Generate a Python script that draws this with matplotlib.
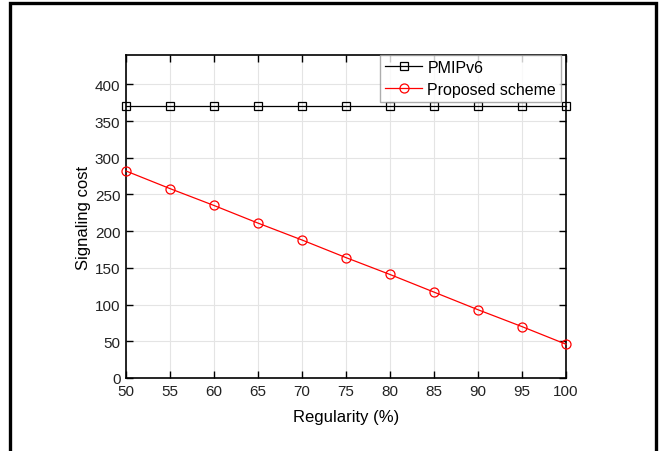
import numpy as np
import matplotlib
matplotlib.use('Agg')
import matplotlib.pyplot as plt
from matplotlib.patches import Rectangle

plt.rcParams['font.family'] = ['Liberation Sans', 'DejaVu Sans']

# --- Datos ---
regularidad = [50, 55, 60, 65, 70, 75, 80, 85, 90, 95, 100]
pmipv6      = [371, 371, 371, 371, 371, 371, 371, 371, 371, 371, 371]
propuesto   = [282, 258, 235, 211, 188, 164, 141, 117, 93, 70, 46]

fig = plt.figure(figsize=(6.62, 4.52), dpi=100)
fig.patch.set_facecolor('white')

# marco exterior
fig.patches.append(Rectangle((10/662, -0.1), (656-10)/662, 1.1 - 4/452,
                             transform=fig.transFigure, fill=False,
                             edgecolor='black', linewidth=2.4, zorder=10))

ax = fig.add_axes([126/662, 1 - 379/452, (566-126)/662, (379-56)/452])

ax.plot(regularidad, pmipv6, color='black', linewidth=0.9, marker='s',
        markersize=5.5, markerfacecolor='none', markeredgewidth=0.9,
        label='PMIPv6', clip_on=False, zorder=3)
ax.plot(regularidad, propuesto, color='red', linewidth=0.9, marker='o',
        markersize=6.5, markerfacecolor='none', markeredgewidth=0.9,
        label='Proposed scheme', clip_on=False, zorder=3)

ax.set_xlim(50, 100)
ax.set_ylim(0, 440)
ax.set_xticks(np.arange(50, 101, 5))
ax.set_yticks(np.arange(0, 401, 50))
ax.grid(True, color='#e4e4e4', linewidth=0.8)
ax.set_axisbelow(True)

ax.tick_params(direction='in', top=True, right=True, length=5, width=1,
               labelsize=11, colors='black', labelcolor='#222222', pad=4)
for s in ax.spines.values():
    s.set_linewidth(1.2)

ax.set_xlabel('Regularity (%)', fontsize=12, labelpad=8)
ax.set_ylabel('Signaling cost', fontsize=12, labelpad=3)

leg = ax.legend(loc='upper right', bbox_to_anchor=(1 - 5/440, 1.0),
                borderaxespad=0, fontsize=11.5, frameon=True, fancybox=False,
                handlelength=2.3, handletextpad=0.35, borderpad=0.3,
                labelspacing=0.45)
leg.get_frame().set_edgecolor('#999999')
leg.get_frame().set_linewidth(1.0)

plt.savefig('out.png', dpi=100, facecolor='white')
